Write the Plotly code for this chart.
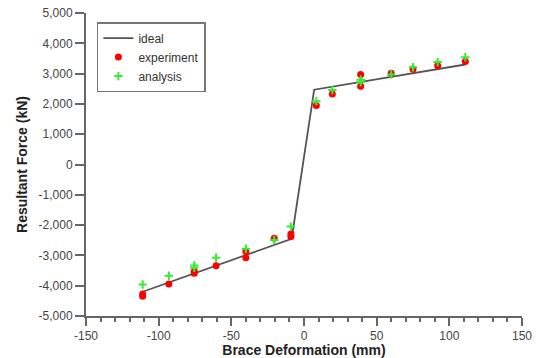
import plotly.graph_objects as go

ideal_x = [-111, -8.5, 7, 111]
ideal_y = [-4200, -2450, 2470, 3300]

exp_x = [8.5, 19.5, 39, 39, 60, 75, 92, 111,
         -111, -111, -93, -75.5, -75.5, -60.5, -40, -40, -20.5, -9, -9]
exp_y = [1950, 2330, 2970, 2580, 3010, 3140, 3260, 3400,
         -4270, -4350, -3940, -3590, -3520, -3340, -2870, -3080, -2430, -2290, -2380]

ana_x = [8.5, 19.5, 39, 39, 60, 75, 92, 111,
         -111, -93, -75.5, -75.5, -60.5, -40, -20.5, -9]
ana_y = [2090, 2460, 2800, 2720, 2970, 3210, 3380, 3540,
         -3960, -3670, -3330, -3410, -3080, -2780, -2490, -2050]

x_ticks = [-150, -100, -50, 0, 50, 100, 150]
x_ticktext = ["-150", "-100", "-50", "0", "50", "100", "150"]
y_ticks = [5000, 4000, 3000, 2000, 1000, 0, -1000, -2000, -3000, -4000, -5000]
y_ticktext = ["5,000", "4,000", "3,000", "2,000", "1,000", "0",
              "-1,000", "-2,000", "-3,000", "-4,000", "-5,000"]

fig = go.Figure()
fig.add_trace(go.Scatter(x=ideal_x, y=ideal_y, mode="lines", name="ideal",
                         line=dict(color="#555555", width=1.8)))
fig.add_trace(go.Scatter(x=exp_x, y=exp_y, mode="markers", name="experiment",
                         marker=dict(color="#ff0000", size=7, symbol="circle")))
fig.add_trace(go.Scatter(x=ana_x, y=ana_y, mode="markers", name="analysis",
                         marker=dict(color="#33ee33", size=6, symbol="cross-thin",
                                     line=dict(color="#33ee33", width=2))))

axis_common = dict(showgrid=False, zeroline=False, showline=True, automargin=False,
                   linecolor="#666666", linewidth=2, ticks="outside",
                   tickcolor="#666666", tickwidth=2, ticklabeloverflow="allow",
                   tickfont=dict(family="Liberation Sans, Arial", size=12, color="#444444"))

fig.update_layout(
    width=536, height=358,
    margin=dict(l=86, r=14, t=13, b=42, autoexpand=False),
    paper_bgcolor="white", plot_bgcolor="white",
    font=dict(family="Liberation Sans, Arial", color="#222222"),
    xaxis=dict(range=[-150, 150], tickvals=x_ticks, ticktext=x_ticktext,
               ticklen=8,
               minor=dict(dtick=10, ticks="outside", ticklen=4, tickcolor="#666666", tickwidth=1.5),
               title=dict(text="<b>Brace Deformation (mm)</b>", standoff=0,
                          font=dict(size=14, color="#222222")),
               **axis_common),
    yaxis=dict(range=[-5000, 5000], tickvals=y_ticks, ticktext=y_ticktext,
               ticklen=9,
               title=dict(text="<b>Resultant Force (kN)</b>", standoff=8,
                          font=dict(size=14, color="#222222")),
               **axis_common),
    legend=dict(x=0.025, y=0.97, xanchor="left", yanchor="top",
                bgcolor="white", bordercolor="#777777", borderwidth=1.5,
                font=dict(size=12, color="#333333"),
                tracegroupgap=0, itemwidth=30, entrywidth=118),
    showlegend=True,
)

fig.write_html("out.html", config={"displayModeBar": False},
               post_script="document.body.style.margin='0';document.body.style.overflow='hidden';")
